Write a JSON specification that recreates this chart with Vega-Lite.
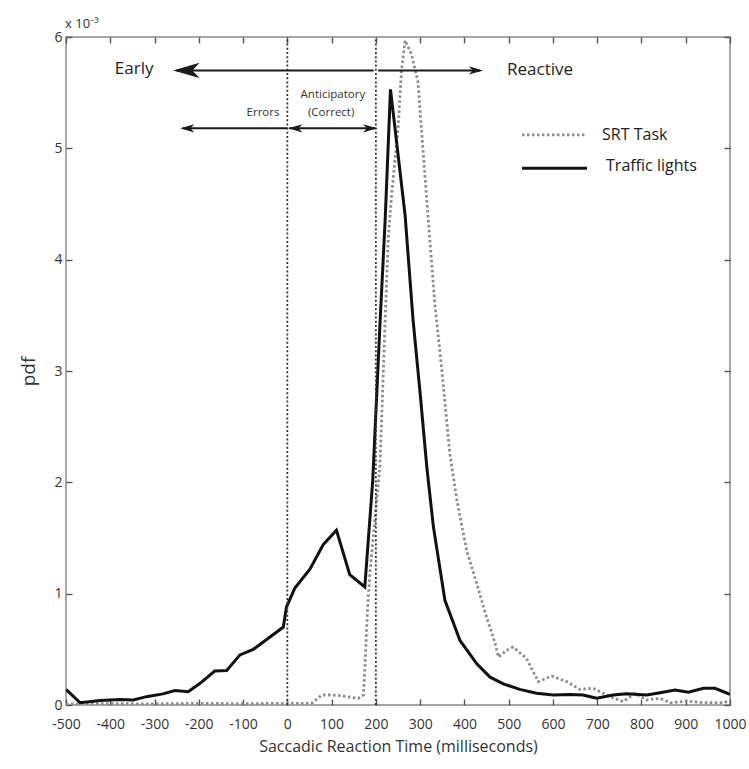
{
  "$schema": "https://vega.github.io/schema/vega-lite/v6.json",
  "width": 664,
  "height": 668,
  "autosize": "none",
  "padding": {"left": 66, "top": 37, "right": 19, "bottom": 64},
  "background": "white",
  "config": {
    "font": "Open Sans",
    "view": {"stroke": "#8a8a8a", "strokeWidth": 1.5},
    "axis": {
      "domain": false,
      "grid": false,
      "ticks": true,
      "offset": -6,
      "tickColor": "#555",
      "tickSize": 6,
      "tickWidth": 1.4,
      "labelColor": "#333",
      "labelFontSize": 14,
      "labelOverlap": false,
      "labelFlush": false,
      "labelExpr": "'' + datum.value",
      "titleColor": "#333",
      "titleFontWeight": "normal",
      "zindex": 1
    }
  },
  "datasets": {
    "curves": [
      {"series": "SRT Task", "t": -500, "pdf": 0.01},
      {"series": "SRT Task", "t": -400, "pdf": 0.012},
      {"series": "SRT Task", "t": -300, "pdf": 0.01},
      {"series": "SRT Task", "t": -200, "pdf": 0.015},
      {"series": "SRT Task", "t": -100, "pdf": 0.012},
      {"series": "SRT Task", "t": 0, "pdf": 0.015},
      {"series": "SRT Task", "t": 55, "pdf": 0.015},
      {"series": "SRT Task", "t": 78, "pdf": 0.09},
      {"series": "SRT Task", "t": 100, "pdf": 0.09},
      {"series": "SRT Task", "t": 119, "pdf": 0.085},
      {"series": "SRT Task", "t": 142, "pdf": 0.07},
      {"series": "SRT Task", "t": 160, "pdf": 0.06},
      {"series": "SRT Task", "t": 172, "pdf": 0.09},
      {"series": "SRT Task", "t": 176, "pdf": 0.4},
      {"series": "SRT Task", "t": 181, "pdf": 0.85},
      {"series": "SRT Task", "t": 187, "pdf": 1.21},
      {"series": "SRT Task", "t": 209, "pdf": 2.14},
      {"series": "SRT Task", "t": 213, "pdf": 2.56},
      {"series": "SRT Task", "t": 221, "pdf": 3.46},
      {"series": "SRT Task", "t": 228, "pdf": 4.2},
      {"series": "SRT Task", "t": 236, "pdf": 4.6},
      {"series": "SRT Task", "t": 250, "pdf": 5.17},
      {"series": "SRT Task", "t": 258, "pdf": 5.7},
      {"series": "SRT Task", "t": 266, "pdf": 5.97},
      {"series": "SRT Task", "t": 280, "pdf": 5.85},
      {"series": "SRT Task", "t": 295, "pdf": 5.6},
      {"series": "SRT Task", "t": 303, "pdf": 5.17},
      {"series": "SRT Task", "t": 318, "pdf": 4.38},
      {"series": "SRT Task", "t": 333, "pdf": 3.61},
      {"series": "SRT Task", "t": 349, "pdf": 3.01},
      {"series": "SRT Task", "t": 367, "pdf": 2.26},
      {"series": "SRT Task", "t": 383, "pdf": 1.84},
      {"series": "SRT Task", "t": 405, "pdf": 1.39},
      {"series": "SRT Task", "t": 428, "pdf": 1.09},
      {"series": "SRT Task", "t": 450, "pdf": 0.79},
      {"series": "SRT Task", "t": 469, "pdf": 0.56},
      {"series": "SRT Task", "t": 477, "pdf": 0.43},
      {"series": "SRT Task", "t": 495, "pdf": 0.49},
      {"series": "SRT Task", "t": 510, "pdf": 0.52},
      {"series": "SRT Task", "t": 540, "pdf": 0.42},
      {"series": "SRT Task", "t": 567, "pdf": 0.21},
      {"series": "SRT Task", "t": 597, "pdf": 0.26},
      {"series": "SRT Task", "t": 631, "pdf": 0.21},
      {"series": "SRT Task", "t": 661, "pdf": 0.14},
      {"series": "SRT Task", "t": 691, "pdf": 0.15},
      {"series": "SRT Task", "t": 729, "pdf": 0.075},
      {"series": "SRT Task", "t": 759, "pdf": 0.03},
      {"series": "SRT Task", "t": 785, "pdf": 0.105},
      {"series": "SRT Task", "t": 812, "pdf": 0.045},
      {"series": "SRT Task", "t": 842, "pdf": 0.06},
      {"series": "SRT Task", "t": 865, "pdf": 0.02},
      {"series": "SRT Task", "t": 902, "pdf": 0.035},
      {"series": "SRT Task", "t": 940, "pdf": 0.02},
      {"series": "SRT Task", "t": 985, "pdf": 0.02},
      {"series": "SRT Task", "t": 1000, "pdf": 0.04},
      {"series": "Traffic lights", "t": -500, "pdf": 0.14},
      {"series": "Traffic lights", "t": -468, "pdf": 0.02},
      {"series": "Traffic lights", "t": -423, "pdf": 0.04},
      {"series": "Traffic lights", "t": -378, "pdf": 0.05},
      {"series": "Traffic lights", "t": -348, "pdf": 0.045},
      {"series": "Traffic lights", "t": -318, "pdf": 0.075},
      {"series": "Traffic lights", "t": -281, "pdf": 0.1},
      {"series": "Traffic lights", "t": -254, "pdf": 0.13},
      {"series": "Traffic lights", "t": -224, "pdf": 0.12},
      {"series": "Traffic lights", "t": -197, "pdf": 0.195},
      {"series": "Traffic lights", "t": -164, "pdf": 0.305},
      {"series": "Traffic lights", "t": -137, "pdf": 0.31},
      {"series": "Traffic lights", "t": -107, "pdf": 0.45},
      {"series": "Traffic lights", "t": -77, "pdf": 0.5},
      {"series": "Traffic lights", "t": -46, "pdf": 0.59},
      {"series": "Traffic lights", "t": -9, "pdf": 0.7},
      {"series": "Traffic lights", "t": -2, "pdf": 0.88},
      {"series": "Traffic lights", "t": 17, "pdf": 1.05},
      {"series": "Traffic lights", "t": 51, "pdf": 1.22},
      {"series": "Traffic lights", "t": 81, "pdf": 1.44},
      {"series": "Traffic lights", "t": 111, "pdf": 1.57},
      {"series": "Traffic lights", "t": 141, "pdf": 1.17},
      {"series": "Traffic lights", "t": 175, "pdf": 1.06},
      {"series": "Traffic lights", "t": 193, "pdf": 2.02},
      {"series": "Traffic lights", "t": 209, "pdf": 3.4},
      {"series": "Traffic lights", "t": 221, "pdf": 4.36},
      {"series": "Traffic lights", "t": 233, "pdf": 5.53},
      {"series": "Traffic lights", "t": 266, "pdf": 4.4},
      {"series": "Traffic lights", "t": 284, "pdf": 3.46},
      {"series": "Traffic lights", "t": 300, "pdf": 2.8},
      {"series": "Traffic lights", "t": 315, "pdf": 2.14},
      {"series": "Traffic lights", "t": 330, "pdf": 1.6},
      {"series": "Traffic lights", "t": 356, "pdf": 0.94},
      {"series": "Traffic lights", "t": 390, "pdf": 0.58},
      {"series": "Traffic lights", "t": 428, "pdf": 0.37},
      {"series": "Traffic lights", "t": 458, "pdf": 0.25},
      {"series": "Traffic lights", "t": 488, "pdf": 0.19},
      {"series": "Traffic lights", "t": 525, "pdf": 0.14},
      {"series": "Traffic lights", "t": 563, "pdf": 0.105},
      {"series": "Traffic lights", "t": 601, "pdf": 0.09},
      {"series": "Traffic lights", "t": 638, "pdf": 0.095},
      {"series": "Traffic lights", "t": 668, "pdf": 0.09},
      {"series": "Traffic lights", "t": 699, "pdf": 0.06},
      {"series": "Traffic lights", "t": 736, "pdf": 0.09},
      {"series": "Traffic lights", "t": 766, "pdf": 0.1},
      {"series": "Traffic lights", "t": 812, "pdf": 0.09},
      {"series": "Traffic lights", "t": 842, "pdf": 0.11},
      {"series": "Traffic lights", "t": 876, "pdf": 0.135},
      {"series": "Traffic lights", "t": 906, "pdf": 0.115},
      {"series": "Traffic lights", "t": 940, "pdf": 0.15},
      {"series": "Traffic lights", "t": 966, "pdf": 0.15},
      {"series": "Traffic lights", "t": 1000, "pdf": 0.095}
    ],
    "vlines": [{"t": 0, "y0": 0, "y1": 6}, {"t": 200, "y0": 0, "y1": 6}],
    "arrows": [
      {"name": "Early", "x1": -250, "x2": 195, "y": 5.7},
      {"name": "Reactive", "x1": 205, "x2": 435, "y": 5.7},
      {"name": "Errors", "x1": -236, "x2": 0, "y": 5.18},
      {"name": "Anticipatory", "x1": 4, "x2": 198, "y": 5.18}
    ],
    "bigheads": [{"t": -258, "y": 5.7, "dir": "left"}],
    "smallheads": [
      {"t": 442, "y": 5.7, "dir": "right"},
      {"t": -242, "y": 5.18, "dir": "left"},
      {"t": 2, "y": 5.18, "dir": "left"},
      {"t": 203, "y": 5.18, "dir": "right"}
    ],
    "bigtext": [
      {"t": -346, "y": 5.71, "label": "Early"},
      {"t": 571, "y": 5.7, "label": "Reactive"}
    ],
    "smalltext": [
      {"t": -55, "y": 5.32, "label": "Errors"},
      {"t": 103, "y": 5.48, "label": "Anticipatory"},
      {"t": 99, "y": 5.32, "label": "(Correct)"}
    ],
    "legendlines": [
      {"series": "SRT Task", "x1": 530, "x2": 677, "y": 5.12},
      {"series": "Traffic lights", "x1": 530, "x2": 677, "y": 4.82}
    ],
    "legendtext": [
      {"t": 711, "y": 5.12, "label": "SRT Task"},
      {"t": 720, "y": 4.84, "label": "Traffic lights"}
    ],
    "exponent": [{"t": -502, "y": 6.12, "label": "x 10⁻³"}]
  },
  "layer": [
    {
      "data": {"name": "curves"},
      "transform": [{"filter": "datum.series === 'SRT Task'"}],
      "mark": {"type": "line", "color": "#8c8c8c", "strokeWidth": 2.8, "strokeDash": [2.5, 2.5], "clip": true},
      "encoding": {
        "x": {"field": "t", "type": "quantitative", "scale": {"domain": [-500, 1000], "nice": false, "zero": false},
              "axis": {"values": [-500,-400,-300,-200,-100,0,100,200,300,400,500,600,700,800,900,1000], "labelPadding": 12, "title": "Saccadic Reaction Time (milliseconds)", "titleFontSize": 16, "titlePadding": 7}},
        "y": {"field": "pdf", "type": "quantitative", "scale": {"domain": [0, 6], "nice": false},
              "axis": {"values": [0,1,2,3,4,5,6], "labelPadding": 4, "labelFontSize": 14, "labelBaseline": "middle", "title": "pdf", "titleFontSize": 19, "titlePadding": 15}}
      }
    },
    {
      "data": {"name": "curves"},
      "transform": [{"filter": "datum.series === 'Traffic lights'"}],
      "mark": {"type": "line", "color": "#111", "strokeWidth": 3, "clip": true},
      "encoding": {
        "x": {"field": "t", "type": "quantitative", "scale": {"domain": [-500, 1000]}, "axis": null},
        "y": {"field": "pdf", "type": "quantitative", "scale": {"domain": [0, 6]}, "axis": null}
      }
    },
    {
      "data": {"name": "vlines"},
      "mark": {"type": "rule", "color": "#333", "strokeWidth": 1.8, "strokeDash": [2, 2.2]},
      "encoding": {
        "x": {"field": "t", "type": "quantitative", "scale": {"domain": [-500, 1000]},
              "axis": {"orient": "top", "labels": false, "title": null, "values": [-500,-400,-300,-200,-100,0,100,200,300,400,500,600,700,800,900,1000]}},
        "y": {"field": "y0", "type": "quantitative", "scale": {"domain": [0, 6]},
              "axis": {"orient": "right", "labels": false, "title": null, "values": [0,1,2,3,4,5,6]}},
        "y2": {"field": "y1"}
      }
    },
    {
      "data": {"name": "arrows"},
      "mark": {"type": "rule", "color": "#1a1a1a", "strokeWidth": 2},
      "encoding": {
        "x": {"field": "x1", "type": "quantitative", "scale": {"domain": [-500, 1000]}, "axis": null},
        "x2": {"field": "x2"},
        "y": {"field": "y", "type": "quantitative", "scale": {"domain": [0, 6]}, "axis": null}
      }
    },
    {
      "data": {"name": "bigheads"},
      "mark": {"type": "point", "filled": true, "color": "#1a1a1a", "opacity": 1, "size": 700, "strokeWidth": 0},
      "encoding": {
        "x": {"field": "t", "type": "quantitative", "scale": {"domain": [-500, 1000]}, "axis": null},
        "y": {"field": "y", "type": "quantitative", "scale": {"domain": [0, 6]}, "axis": null},
        "shape": {"field": "dir", "type": "nominal", "legend": null,
                  "scale": {"domain": ["left", "right"], "range": ["M0,0L2,-0.58L1.45,0L2,0.58Z", "M0,0L-2,-0.58L-1.45,0L-2,0.58Z"]}}
      }
    },
    {
      "data": {"name": "smallheads"},
      "mark": {"type": "point", "filled": true, "color": "#1a1a1a", "opacity": 1, "size": 200, "strokeWidth": 0},
      "encoding": {
        "x": {"field": "t", "type": "quantitative", "scale": {"domain": [-500, 1000]}, "axis": null},
        "y": {"field": "y", "type": "quantitative", "scale": {"domain": [0, 6]}, "axis": null},
        "shape": {"field": "dir", "type": "nominal", "legend": null,
                  "scale": {"domain": ["left", "right"], "range": ["M0,0L2,-0.9L1.45,0L2,0.9Z", "M0,0L-2,-0.9L-1.45,0L-2,0.9Z"]}}
      }
    },
    {
      "data": {"name": "legendlines"},
      "transform": [{"filter": "datum.series === 'SRT Task'"}],
      "mark": {"type": "rule", "color": "#8c8c8c", "strokeWidth": 2.8, "strokeDash": [2.5, 2.5]},
      "encoding": {
        "x": {"field": "x1", "type": "quantitative", "scale": {"domain": [-500, 1000]}, "axis": null},
        "x2": {"field": "x2"},
        "y": {"field": "y", "type": "quantitative", "scale": {"domain": [0, 6]}, "axis": null}
      }
    },
    {
      "data": {"name": "legendlines"},
      "transform": [{"filter": "datum.series === 'Traffic lights'"}],
      "mark": {"type": "rule", "color": "#111", "strokeWidth": 3},
      "encoding": {
        "x": {"field": "x1", "type": "quantitative", "scale": {"domain": [-500, 1000]}, "axis": null},
        "x2": {"field": "x2"},
        "y": {"field": "y", "type": "quantitative", "scale": {"domain": [0, 6]}, "axis": null}
      }
    },
    {
      "data": {"name": "bigtext"},
      "mark": {"type": "text", "fontSize": 17, "color": "#222", "align": "center", "baseline": "middle"},
      "encoding": {
        "x": {"field": "t", "type": "quantitative", "scale": {"domain": [-500, 1000]}, "axis": null},
        "y": {"field": "y", "type": "quantitative", "scale": {"domain": [0, 6]}, "axis": null},
        "text": {"field": "label"}
      }
    },
    {
      "data": {"name": "smalltext"},
      "mark": {"type": "text", "fontSize": 11.5, "color": "#333", "align": "center", "baseline": "middle"},
      "encoding": {
        "x": {"field": "t", "type": "quantitative", "scale": {"domain": [-500, 1000]}, "axis": null},
        "y": {"field": "y", "type": "quantitative", "scale": {"domain": [0, 6]}, "axis": null},
        "text": {"field": "label"}
      }
    },
    {
      "data": {"name": "legendtext"},
      "mark": {"type": "text", "fontSize": 16, "color": "#222", "align": "left", "baseline": "middle"},
      "encoding": {
        "x": {"field": "t", "type": "quantitative", "scale": {"domain": [-500, 1000]}, "axis": null},
        "y": {"field": "y", "type": "quantitative", "scale": {"domain": [0, 6]}, "axis": null},
        "text": {"field": "label"}
      }
    },
    {
      "data": {"name": "exponent"},
      "mark": {"type": "text", "fontSize": 13, "color": "#333", "align": "left", "baseline": "middle"},
      "encoding": {
        "x": {"field": "t", "type": "quantitative", "scale": {"domain": [-500, 1000]}, "axis": null},
        "y": {"field": "y", "type": "quantitative", "scale": {"domain": [0, 6]}, "axis": null},
        "text": {"field": "label"}
      }
    }
  ],
  "resolve": {"axis": {"x": "independent", "y": "independent"}}
}
